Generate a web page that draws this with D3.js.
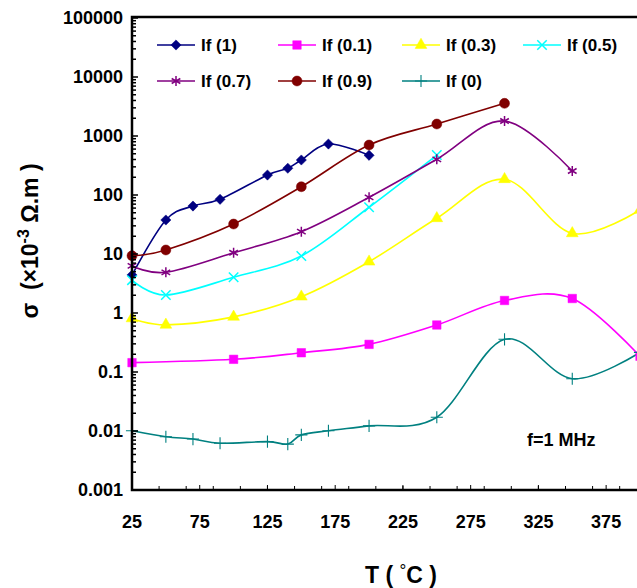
<!DOCTYPE html>
<html>
<head>
<meta charset="utf-8">
<script src="https://cdn.jsdelivr.net/npm/d3@7"></script>
<style>
  html, body { margin: 0; padding: 0; background: #fff; }
  svg { display: block; font-family: 'Liberation Sans', Arial, sans-serif; }
</style>
</head>
<body>
<div id="chart"></div>
<script>
// ── DONNÉES ──────────────────────────────────────────────────────────────
const tIf1   = [25, 50, 70, 90, 125, 140, 150, 170, 200];
const vIf1   = [4.4, 37.7, 65, 84.5, 218, 284, 392, 731, 471];

const tIf01  = [25, 100, 150, 200, 250, 300, 350, 400];
const vIf01  = [0.144, 0.164, 0.212, 0.294, 0.626, 1.63, 1.76, 0.185];

const tIf03  = [25, 50, 100, 150, 200, 250, 300, 350, 400];
const vIf03  = [0.81, 0.63, 0.86, 1.89, 7.4, 40.3, 185, 22.4, 56];

const tIf05  = [25, 50, 100, 150, 200, 250];
const vIf05  = [3.6, 2.02, 4.03, 9.25, 62, 476];

const tIf07  = [25, 50, 100, 150, 200, 250, 300, 350];
const vIf07  = [6.3, 4.9, 10.5, 23.9, 91.5, 403, 1795, 255];

const tIf09  = [25, 50, 100, 150, 200, 250, 300];
const vIf09  = [9.35, 11.7, 32.2, 138, 703, 1596, 3580];

const tIf0   = [25, 50, 70, 90, 125, 140, 150, 170, 200, 250, 300, 350, 400];
const vIf0   = [0.0101, 0.0080, 0.0073, 0.0062, 0.0066, 0.0060, 0.0086, 0.0101, 0.0122, 0.0171, 0.358, 0.0769, 0.215];

const xLabels = [25, 75, 125, 175, 225, 275, 325, 375];
const yLabels = [0.001, 0.01, 0.1, 1, 10, 100, 1000, 10000, 100000];

const series = [
  { name: 'If (1)',   t: tIf1,  v: vIf1,  color: '#000080', shape: 'diamond'  },
  { name: 'If (0.1)', t: tIf01, v: vIf01, color: '#FF00FF', shape: 'square'   },
  { name: 'If (0.3)', t: tIf03, v: vIf03, color: '#FFFF00', shape: 'triangle' },
  { name: 'If (0.5)', t: tIf05, v: vIf05, color: '#00FFFF', shape: 'times'    },
  { name: 'If (0.7)', t: tIf07, v: vIf07, color: '#800080', shape: 'asterisk' },
  { name: 'If (0.9)', t: tIf09, v: vIf09, color: '#800000', shape: 'circle'   },
  { name: 'If (0)',   t: tIf0,  v: vIf0,  color: '#008080', shape: 'plus'     }
];

// ── MISE EN PAGE ─────────────────────────────────────────────────────────
const W = 637, H = 588;
const X0 = 132, X1 = 640, Y0 = 490, Y1 = 17;

const svg = d3.select('#chart').append('svg').attr('width', W).attr('height', H);

const x = d3.scaleLinear().domain([25, 400]).range([X0, X1]);
const y = d3.scaleLog().domain([0.001, 100000]).range([Y0, Y1 + 1]);

// Marqueurs
const symbols = {
  diamond:  { type: d3.symbolSquare,   size: 52, rot: 45, fill: true },
  square:   { type: d3.symbolSquare,   size: 72, rot: 0,  fill: true },
  triangle: { type: d3.symbolTriangle, size: 60, rot: 0,  fill: true },
  circle:   { type: d3.symbolCircle,   size: 78, rot: 0,  fill: true },
  times:    { type: d3.symbolTimes,    size: 60, rot: 0,  fill: false },
  asterisk: { type: d3.symbolAsterisk, size: 70, rot: 0,  fill: false },
  plus:     { type: d3.symbolPlus,     size: 50, rot: 0,  fill: false }
};

function drawMarker(g, s, cx, cy) {
  const sym = symbols[s.shape];
  g.append('path')
    .attr('d', d3.symbol().type(sym.type).size(sym.size)())
    .attr('transform', `translate(${cx},${cy}) rotate(${sym.rot})`)
    .attr('fill', sym.fill ? s.color : 'none')
    .attr('stroke', s.color)
    .attr('stroke-width', sym.fill ? 0.5 : (s.shape === 'plus' ? 1.1 : 1.5));
}

// ── COURBES ──────────────────────────────────────────────────────────────
const line = d3.line()
  .x(d => x(d[0])).y(d => y(d[1]))
  .curve(d3.curveCatmullRom.alpha(0));

const plot = svg.append('g');
series.forEach(s => {
  const pts = s.t.map((t, i) => [t, s.v[i]]);
  plot.append('path').datum(pts)
    .attr('d', line).attr('fill', 'none')
    .attr('stroke', s.color).attr('stroke-width', 1.6);
});
series.forEach(s => {
  const g = plot.append('g');
  s.t.forEach((t, i) => drawMarker(g, s, x(t), y(s.v[i])));
});

// ── AXES ─────────────────────────────────────────────────────────────────
const axes = svg.append('g');

// Graduations Y (log, vers l'intérieur)
const yMinor = [];
for (let e = -3; e < 5; e++) for (let m = 2; m <= 9; m++) yMinor.push(m * Math.pow(10, e));
axes.selectAll('.ymin').data(yMinor).enter().append('line')
  .attr('x1', X0).attr('x2', X0 + 4).attr('y1', d => y(d)).attr('y2', d => y(d))
  .attr('stroke', '#000').attr('stroke-width', 1.5);
axes.selectAll('.ymaj').data(yLabels).enter().append('line')
  .attr('x1', X0).attr('x2', X0 + 6).attr('y1', d => y(d)).attr('y2', d => y(d))
  .attr('stroke', '#000').attr('stroke-width', 1.5);

// Graduations X : pas majeur 50, pas mineur 20
const xMinor = d3.range(25, 400, 20);
axes.selectAll('.xmin').data(xMinor).enter().append('line')
  .attr('x1', d => x(d)).attr('x2', d => x(d)).attr('y1', Y0).attr('y2', Y0 - 4)
  .attr('stroke', '#000').attr('stroke-width', 1);
axes.selectAll('.xmaj').data(xLabels).enter().append('line')
  .attr('x1', d => x(d)).attr('x2', d => x(d)).attr('y1', Y0).attr('y2', Y0 - 5)
  .attr('stroke', '#000').attr('stroke-width', 1);

// Cadre : gauche, bas, haut
axes.append('path')
  .attr('d', `M${W + 2},${Y1} H${X0} V${Y0} H${W + 2}`)
  .attr('fill', 'none').attr('stroke', '#000').attr('stroke-width', 2.5);

// Étiquettes
axes.selectAll('.yl').data(yLabels).enter().append('text')
  .attr('x', 123).attr('y', d => y(d)).attr('dy', '0.35em')
  .attr('text-anchor', 'end').attr('font-size', '18px').attr('font-weight', 'bold')
  .text(d => d >= 1 ? String(d) : d.toFixed(Math.round(-Math.log10(d))));

axes.selectAll('.xl').data(xLabels).enter().append('text')
  .attr('x', d => x(d)).attr('y', 522).attr('dy', '0.35em')
  .attr('text-anchor', 'middle').attr('font-size', '18px').attr('font-weight', 'bold')
  .text(d => d);

// Titre axe X
const xt = svg.append('text').attr('x', 401).attr('y', 583)
  .attr('text-anchor', 'middle').attr('font-size', '23px').attr('font-weight', 'bold');
xt.append('tspan').text('T ( ');
xt.append('tspan').attr('font-weight', 'normal').attr('font-size', '17px').attr('dy', -7).text('°');
xt.append('tspan').attr('dy', 7).text('C )');

// Titre axe Y
const yt = svg.append('text').attr('transform', 'translate(38,241) rotate(-90)')
  .attr('text-anchor', 'middle').attr('font-size', '23px').attr('font-weight', 'bold')
  .attr('xml:space', 'preserve').style('white-space', 'pre');
yt.append('tspan').text('σ  (×10');
yt.append('tspan').attr('font-size', '16px').attr('dy', -9).text('-3');
yt.append('tspan').attr('dy', 9).text(' Ω.m )');

// Annotation
svg.append('text').attr('x', 527).attr('y', 446)
  .attr('font-size', '18px').attr('font-weight', 'bold').text('f=1 MHz');

// ── LÉGENDE ──────────────────────────────────────────────────────────────
const legCols = [157, 278, 402, 523];
const legRows = [45, 81];
series.forEach((s, i) => {
  const lx = legCols[i % 4], ly = legRows[Math.floor(i / 4)];
  const g = svg.append('g');
  g.append('line').attr('x1', lx).attr('x2', lx + 38).attr('y1', ly).attr('y2', ly)
    .attr('stroke', s.color).attr('stroke-width', 1.6);
  drawMarker(g, s, lx + 19, ly);
  g.append('text').attr('x', lx + 44).attr('y', ly).attr('dy', '0.36em')
    .attr('font-size', '17px').attr('font-weight', 'bold').text(s.name);
});
</script>
</body>
</html>
